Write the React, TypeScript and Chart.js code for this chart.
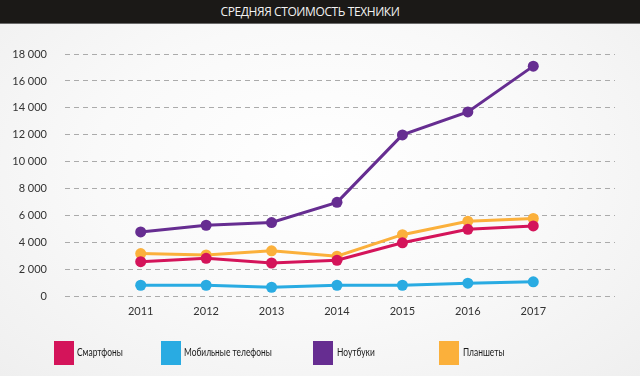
import React, { useEffect, useRef } from "react";
import { Chart, registerables } from "chart.js";

Chart.register(...registerables);

const years = [2011, 2012, 2013, 2014, 2015, 2016, 2017];
const smartphones = [2600, 2850, 2500, 2700, 4000, 5000, 5250];
const mobilePhones = [850, 850, 700, 850, 850, 1000, 1100];
const notebooks = [4800, 5300, 5500, 7000, 12000, 13700, 17100];
const tablets = [3200, 3100, 3400, 3000, 4600, 5600, 5800];

const seriesNames = ["Смартфоны", "Мобильные телефоны", "Ноутбуки", "Планшеты"];
const seriesColors = ["#d4145a", "#29abe2", "#662d91", "#fbb03b"];
const title = "СРЕДНЯЯ СТОИМОСТЬ ТЕХНИКИ";

const FONT = "Lato, 'Open Sans', sans-serif";

const legendPos = [
  { box: 54, text: 77 },
  { box: 161, text: 184 },
  { box: 313, text: 337 },
  { box: 439, text: 463 },
];

export default function App() {
  const canvasRef = useRef<HTMLCanvasElement | null>(null);

  useEffect(() => {
    document.body.style.margin = "0";
    const canvas = canvasRef.current;
    if (!canvas) return;
    const all = [smartphones, mobilePhones, notebooks, tablets];
    const chart = new Chart(canvas, {
      type: "line",
      data: {
        datasets: all.map((arr, i) => ({
          label: seriesNames[i],
          data: arr.map((v, j) => ({ x: years[j], y: v })),
          borderColor: seriesColors[i],
          backgroundColor: seriesColors[i],
          pointBackgroundColor: seriesColors[i],
          pointBorderWidth: 0,
          pointRadius: 5.5,
          borderWidth: 3,
          tension: 0,
          fill: false,
        })),
      },
      options: {
        animation: false,
        responsive: false,
        devicePixelRatio: 1,
        layout: { padding: { top: 54, right: 25, left: 0, bottom: 0 } },
        plugins: {
          legend: { display: false },
          title: { display: false },
          tooltip: { enabled: false },
        },
        scales: {
          x: {
            type: "linear",
            min: 2009.843,
            max: 2018.249,
            afterBuildTicks: (scale: any) => {
              scale.ticks = years.map((v) => ({ value: v }));
            },
            afterFit: (scale: any) => {
              scale.height = 79.3;
            },
            grid: { display: false, drawTicks: false },
            border: { display: false },
            ticks: {
              padding: 8,
              color: "#333",
              font: { family: FONT, size: 11 },
              callback: (v: any) => String(v),
              maxRotation: 0,
              autoSkip: false,
            },
          },
          y: {
            min: 0,
            max: 18000,
            afterFit: (scale: any) => {
              scale.width = 65;
            },
            grid: { color: "#ababab", lineWidth: 1, drawTicks: false },
            border: { display: false, dash: [5, 4] },
            ticks: {
              stepSize: 2000,
              padding: 18,
              color: "#333",
              font: { family: FONT, size: 11 },
              callback: (v: any) =>
                String(v).replace(/\B(?=(\d{3})+(?!\d))/g, " "),
            },
          },
        },
      },
    });
    return () => chart.destroy();
  }, []);

  return (
    <div
      style={{
        position: "relative",
        width: 640,
        height: 376,
        overflow: "hidden",
        background:
          "radial-gradient(ellipse at 50% 45%, #ffffff 0%, #f9f9f9 50%, #efefef 100%)",
        fontFamily: FONT,
      }}
    >
      <canvas
        ref={canvasRef}
        width={640}
        height={376}
        style={{ position: "absolute", left: 0, top: 0, width: 640, height: 376 }}
      />
      <div
        style={{
          position: "absolute",
          left: 0,
          top: 0,
          width: 620,
          paddingRight: 20,
          height: 23,
          background: "#1b1917",
          borderBottom: "1px solid #6a6a6a",
          color: "#f2f2f2",
          fontSize: 12,
          lineHeight: "23px",
          textAlign: "center",
          fontFamily: "'Open Sans', sans-serif",
          letterSpacing: "-0.4px",
        }}
      >
        {title}
      </div>
      {seriesNames.map((name, i) => (
        <React.Fragment key={name}>
          <div
            style={{
              position: "absolute",
              left: legendPos[i].box,
              top: 341,
              width: 20,
              height: 24,
              background: seriesColors[i],
            }}
          />
          <div
            style={{
              position: "absolute",
              left: legendPos[i].text,
              top: 344,
              fontSize: 12,
              lineHeight: "15px",
              color: "#1a1a1a",
              whiteSpace: "nowrap",
              transform: "scaleX(0.7)",
              transformOrigin: "0 50%",
            }}
          >
            {name}
          </div>
        </React.Fragment>
      ))}
    </div>
  );
}
